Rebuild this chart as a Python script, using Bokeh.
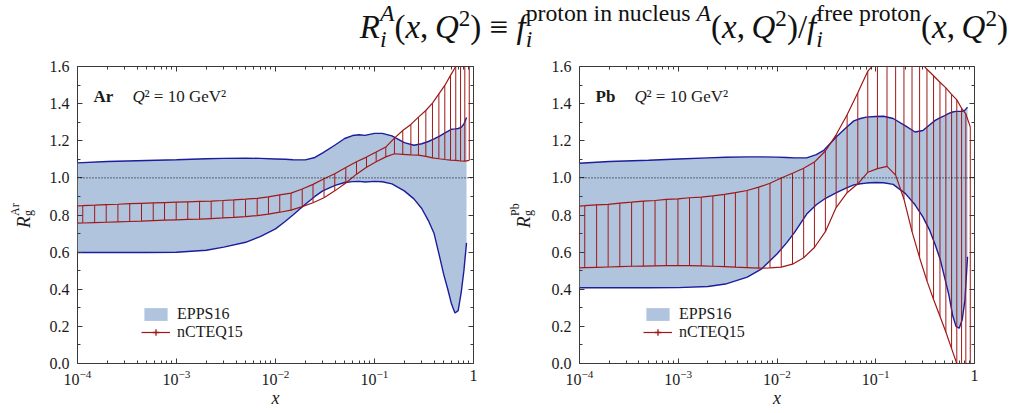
from bokeh.plotting import figure
from bokeh.models import (Label, Legend, LegendItem, Span, LinearAxis, LogAxis, Div,
                          FixedTicker, LogTickFormatter, PrintfTickFormatter,
                          CustomJSTickFormatter)
from bokeh.layouts import column, row
from bokeh.embed import file_html
from bokeh.resources import INLINE

# ---------------- data ----------------
x_epps = [1e-4, 2e-4, 5e-4, 1e-3, 2e-3, 3e-3, 5e-3, 7e-3, 0.01, 0.0125, 0.015, 0.02,
          0.025, 0.03, 0.04, 0.05, 0.06, 0.07, 0.08, 0.1, 0.12, 0.15, 0.2, 0.25,
          0.3, 0.35, 0.4, 0.45, 0.5, 0.55, 0.6, 0.65, 0.7, 0.75, 0.8, 0.85]
ar_epps_up = [1.081, 1.088, 1.094, 1.098, 1.103, 1.105, 1.106, 1.105, 1.102, 1.100, 1.098, 1.097,
              1.110, 1.135, 1.177, 1.212, 1.228, 1.232, 1.229, 1.240, 1.240, 1.226, 1.190, 1.176,
              1.184, 1.196, 1.210, 1.224, 1.238, 1.250, 1.262, 1.264, 1.266, 1.272, 1.290, 1.325]
ar_epps_lo = [0.598, 0.598, 0.598, 0.599, 0.610, 0.627, 0.653, 0.683, 0.725, 0.765, 0.800, 0.858,
              0.900, 0.930, 0.960, 0.975, 0.980, 0.981, 0.978, 0.981, 0.979, 0.968, 0.930, 0.887,
              0.835, 0.770, 0.700, 0.585, 0.480, 0.400, 0.320, 0.272, 0.285, 0.380, 0.500, 0.650]
pb_epps_up = [1.079, 1.088, 1.095, 1.102, 1.108, 1.111, 1.113, 1.113, 1.112, 1.110, 1.108, 1.108,
              1.125, 1.150, 1.222, 1.270, 1.307, 1.320, 1.327, 1.331, 1.332, 1.320, 1.280, 1.247,
              1.255, 1.285, 1.310, 1.325, 1.335, 1.347, 1.355, 1.358, 1.358, 1.358, 1.365, 1.380]
pb_epps_lo = [0.408, 0.408, 0.408, 0.409, 0.415, 0.428, 0.465, 0.510, 0.590, 0.650, 0.705, 0.805,
              0.855, 0.885, 0.920, 0.945, 0.962, 0.968, 0.972, 0.975, 0.974, 0.965, 0.915, 0.855,
              0.790, 0.720, 0.640, 0.560, 0.460, 0.370, 0.260, 0.200, 0.190, 0.235, 0.340, 0.575]

x_ncteq = [1.0e-4, 1.13e-4, 1.49e-4, 1.95e-4, 2.56e-4, 3.37e-4, 4.43e-4, 5.82e-4, 7.57e-4,
           9.93e-4, 1.30e-3, 1.71e-3, 2.24e-3, 2.94e-3, 3.79e-3, 4.98e-3, 6.53e-3, 8.49e-3,
           0.01104, 0.01435, 0.01862, 0.02393, 0.0309, 0.0397, 0.0513, 0.0658, 0.0830, 0.1040,
           0.130, 0.159, 0.193, 0.233, 0.278, 0.330, 0.385, 0.447, 0.513, 0.586, 0.662, 0.740,
           0.817, 0.906]
ar_ncteq_up = [0.849, 0.850, 0.853, 0.856, 0.858, 0.861, 0.863, 0.865, 0.867, 0.869, 0.871, 0.873,
               0.875, 0.878, 0.881, 0.885, 0.890, 0.898, 0.908, 0.918, 0.940, 0.965, 0.995, 1.022,
               1.056, 1.087, 1.112, 1.139, 1.166, 1.214, 1.255, 1.288, 1.327, 1.363, 1.403, 1.453,
               1.498, 1.552, 1.600, 1.660, 1.720, 1.780]
ar_ncteq_lo = [0.756, 0.757, 0.759, 0.761, 0.763, 0.765, 0.767, 0.770, 0.772, 0.774, 0.776, 0.778,
               0.781, 0.784, 0.787, 0.791, 0.797, 0.805, 0.815, 0.826, 0.845, 0.866, 0.893, 0.930,
               0.972, 1.020, 1.057, 1.087, 1.113, 1.130, 1.127, 1.124, 1.123, 1.116, 1.108, 1.103,
               1.099, 1.096, 1.094, 1.091, 1.090, 1.094]
pb_ncteq_up = [0.848, 0.850, 0.855, 0.857, 0.864, 0.869, 0.875, 0.878, 0.884, 0.887, 0.893, 0.896,
               0.903, 0.911, 0.921, 0.932, 0.950, 0.971, 0.999, 1.025, 1.052, 1.085, 1.145, 1.232,
               1.340, 1.458, 1.575, 1.630, 1.670, 1.690, 1.690, 1.670, 1.630, 1.585, 1.550, 1.515,
               1.485, 1.450, 1.420, 1.375, 1.345, 1.275]
pb_ncteq_lo = [0.515, 0.516, 0.518, 0.520, 0.522, 0.524, 0.525, 0.526, 0.527, 0.528, 0.527, 0.526,
               0.524, 0.522, 0.519, 0.517, 0.514, 0.515, 0.519, 0.535, 0.570, 0.625, 0.710, 0.840,
               0.920, 0.968, 1.030, 1.050, 1.062, 1.015, 0.885, 0.710, 0.570, 0.445, 0.345, 0.255,
               0.170, 0.080, 0.000, -0.070, -0.120, -0.180]

nuclei = ["Ar", "Pb"]
series_names = ["EPPS16", "nCTEQ15"]
x_major = [1e-4, 1e-3, 1e-2, 1e-1, 1.0]
x_minor = [m * 10.0 ** e for e in range(-4, 0) for m in range(2, 10)]
y_major = [0.0, 0.2, 0.4, 0.6, 0.8, 1.0, 1.2, 1.4, 1.6]
y_minor = [0.1, 0.3, 0.5, 0.7, 0.9, 1.1, 1.3, 1.5]

# ---------------- style ----------------
FONT = "Liberation Serif"
BLUE_FILL = "#b0c4de"
BLUE_LINE = "#1c1c9c"
RED = "#a01818"
FRAME = "#3a3a3a"
TXT = "#1a1a1a"
FIG_H = 354


def style_axis(ax, show_labels):
    ax.axis_line_color = None
    ax.major_tick_in = 5
    ax.major_tick_out = 0
    ax.minor_tick_in = 3
    ax.minor_tick_out = 0
    ax.major_tick_line_color = FRAME
    ax.minor_tick_line_color = FRAME
    ax.major_label_text_font = FONT
    ax.major_label_text_color = TXT
    if show_labels:
        ax.major_label_text_font_size = "16px"
    else:
        ax.major_label_text_font_size = "0px"
        ax.major_label_standoff = 0
        ax.formatter = CustomJSTickFormatter(code="return ''")


def panel(nucleus, e_up, e_lo, n_up, n_lo, width, bl, br):
    p = figure(width=width, height=FIG_H, x_axis_type="log", x_range=(1e-4, 1), y_range=(0, 1.6),
               output_backend="svg", toolbar_location=None,
               min_border_left=bl, min_border_right=br, min_border_top=8, min_border_bottom=49)
    p.xgrid.visible = False
    p.ygrid.visible = False
    p.outline_line_color = FRAME
    p.outline_line_width = 1

    band = p.varea(x=x_epps, y1=e_lo, y2=e_up, fill_color=BLUE_FILL, fill_alpha=1.0)
    p.line(x_epps, e_up, line_color=BLUE_LINE, line_width=1.4)
    p.line(x_epps, e_lo, line_color=BLUE_LINE, line_width=1.4)
    p.add_layout(Span(location=1.0, dimension="width", line_color="#000000",
                      line_dash="1 2", line_width=1))
    p.segment(x0=x_ncteq, y0=n_lo, x1=x_ncteq, y1=n_up, line_color=RED, line_width=1.0)
    up = p.line(x_ncteq, n_up, line_color=RED, line_width=1.2)
    p.line(x_ncteq, n_lo, line_color=RED, line_width=1.2)
    # legend-only error-bar tick (renderer hidden in the plot itself)
    bar = p.scatter(x=x_ncteq[:1], y=n_up[:1], marker="cross", size=14,
                    line_color=RED, line_width=1.3, visible=False)

    # axes
    xa = p.xaxis[0]
    xa.ticker = FixedTicker(ticks=x_major, minor_ticks=x_minor)
    xa.formatter = LogTickFormatter(min_exponent=1)
    style_axis(xa, True)
    xa.major_label_standoff = 6
    xa.axis_label = "x"
    xa.axis_label_text_font = FONT
    xa.axis_label_text_font_style = "italic"
    xa.axis_label_text_font_size = "18px"
    xa.axis_label_text_color = TXT
    xa.axis_label_standoff = 0
    ya = p.yaxis[0]
    ya.ticker = FixedTicker(ticks=y_major, minor_ticks=y_minor)
    ya.formatter = PrintfTickFormatter(format="%.1f")
    style_axis(ya, True)
    ya.major_label_standoff = 8

    top = LogAxis(ticker=FixedTicker(ticks=x_major, minor_ticks=x_minor))
    style_axis(top, False)
    p.add_layout(top, "above")
    right = LinearAxis(ticker=FixedTicker(ticks=y_major, minor_ticks=y_minor))
    style_axis(right, False)
    p.add_layout(right, "right")

    # legend
    legend = Legend(items=[LegendItem(label=series_names[0], renderers=[band]),
                           LegendItem(label=series_names[1], renderers=[up, bar])],
                    location=(64, 22), padding=0, margin=0, spacing=0,
                    glyph_width=29, glyph_height=16, label_standoff=7,
                    label_text_font=FONT, label_text_font_size="16px",
                    label_text_color=TXT, label_height=16,
                    inactive_fill_alpha=0, click_policy="none",
                    border_line_color=None, background_fill_alpha=0)
    p.add_layout(legend)

    # in-frame annotation
    p.add_layout(Label(x=16, y=267, x_units="screen", y_units="screen", text=nucleus,
                       text_font=FONT, text_font_style="bold", text_font_size="17px",
                       text_baseline="alphabetic", text_color=TXT))
    p.add_layout(Label(x=55, y=267, x_units="screen", y_units="screen", text="Q",
                       text_font=FONT, text_font_style="italic", text_font_size="17px",
                       text_baseline="alphabetic", text_color=TXT))
    p.add_layout(Label(x=67, y=267, x_units="screen", y_units="screen", text="² = 10 GeV²",
                       text_font=FONT, text_font_size="17px",
                       text_baseline="alphabetic", text_color=TXT))
    return p


def ylabel_div(nucleus, width, r_base, g_base, a_base, start_y):
    # rotated R_g^A label; positions are baselines (x) and start (y) inside the div
    def piece(txt, size, base, top, style=""):
        left = base - 0.84 * size
        return (f'<div style="position:absolute;left:{left:.1f}px;top:{top:.1f}px;'
                f'transform:rotate(-90deg);transform-origin:0 0;white-space:nowrap;'
                f'font-family:\'{FONT}\';font-size:{size}px;line-height:1;color:{TXT};{style}">'
                f'{txt}</div>')
    html = (f'<div style="position:relative;width:{width}px;height:{FIG_H}px;">'
            + piece("R", 19, r_base, start_y, "font-style:italic;")
            + piece("g", 12, g_base, start_y - 12.5)
            + piece(nucleus, 12, a_base, start_y - 12.5)
            + '</div>')
    return Div(text=html, width=width, height=FIG_H, margin=(0, 0, 0, 0))


p1 = panel(nuclei[0], ar_epps_up, ar_epps_lo, ar_ncteq_up, ar_ncteq_lo, 440, 37, 7)
p2 = panel(nuclei[1], pb_epps_up, pb_epps_lo, pb_ncteq_up, pb_ncteq_lo, 470, 39, 36)
yl1 = ylabel_div(nuclei[0], 40, 29.5, 32.5, 19.5, 228 - 58)
yl2 = ylabel_div(nuclei[1], 60, 49.5, 52.5, 39.5, 228 - 58)


def stack(sup, sub):
    return ('<span style="display:inline-flex;flex-direction:column;align-items:flex-start;'
            'font-size:0.72em;line-height:1.1;vertical-align:0.7em;">'
            f'<span>{sup}</span><span>{sub}</span></span>')


args = '(<i>x</i>,&thinsp;<i>Q</i><sup style="font-size:0.7em">2</sup>)'
title_html = (
    '<div style="width:1008px;text-align:right;font-family:\'Liberation Serif\';font-size:33px;'
    'white-space:nowrap;line-height:1;position:relative;top:0px;color:#111;">'
    f'<i>R</i>{stack("<i>A</i>", "<i>i</i>")}{args} &equiv; '
    f'<i>f</i>{stack("proton in nucleus <i>A</i>", "<i>i</i>")}{args}/'
    f'<i>f</i>{stack("free proton", "<i>i</i>")}{args}'
    '</div>')
div = Div(text=title_html, width=1010, height=58, margin=(0, 0, 0, 0))

layout = column(div, row(yl1, p1, yl2, p2))
open("out.html", "w").write(file_html(layout, INLINE))
